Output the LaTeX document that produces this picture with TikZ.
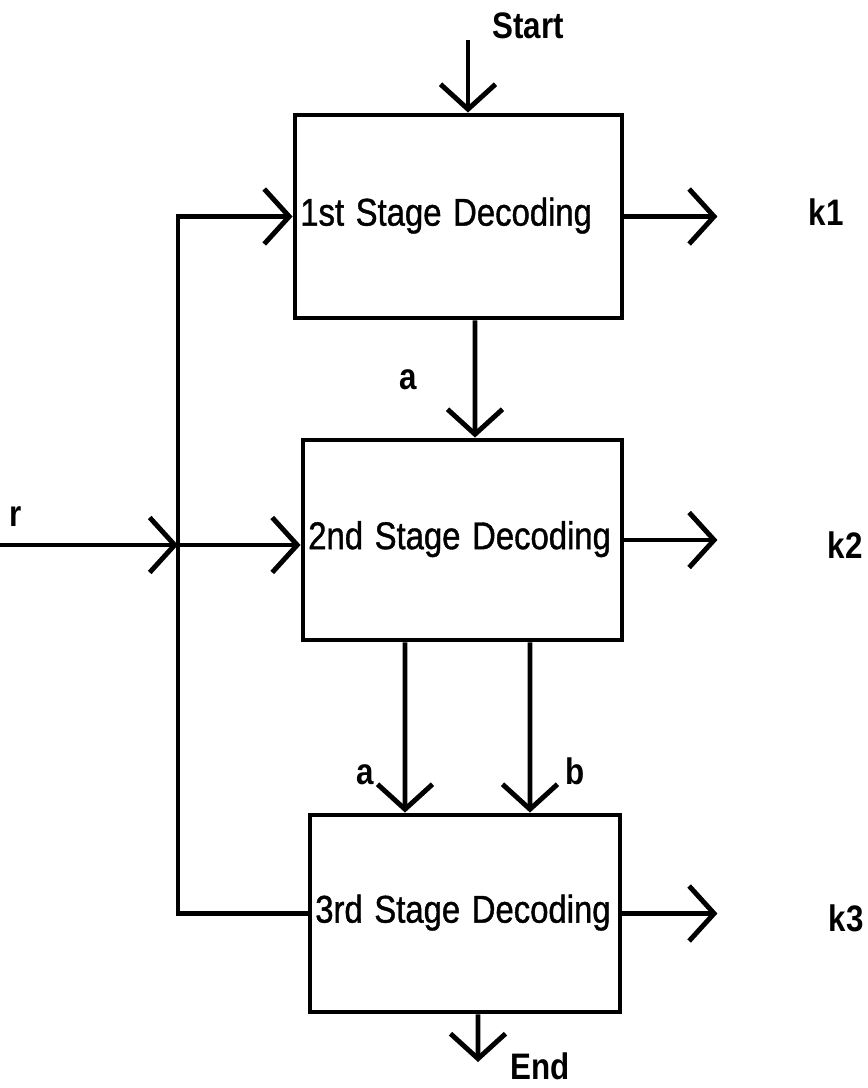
\documentclass[tikz,border=0pt]{standalone}
\usepackage{fontspec}
\setmainfont{Liberation Sans}
\newfontfamily\stagefont[FakeStretch=0.85,FakeBold=1]{Liberation Sans}
\newfontfamily\lblfont[FakeStretch=0.85]{Liberation Sans}
\usetikzlibrary{arrows.meta,positioning}

\tikzset{
  stage/.style={draw, line width=2.8pt, inner xsep=3pt, align=left,
    font=\stagefont\fontsize{22}{26}\selectfont,
    execute at begin node={\spaceskip=0.3em\relax}},
  lbl/.style={font=\lblfont\bfseries\fontsize{21}{25}\selectfont},
  wire/.style={line width=2.8pt},
  arr/.style={wire, -{Straight Barb[length=0.5cm,width=1.1cm]}},
}

\begin{document}
\begin{tikzpicture}[x=0.02cm, y=-0.02cm]
    \useasboundingbox (0,0) rectangle (867,1088);
    % the three stages
    \node[stage, minimum width=6.54cm, minimum height=4.06cm, text width=6.33cm] (b1) at (458.5,216.5) {\mbox{\strut1st Stage Decoding}};
    \node[stage, minimum width=6.38cm, minimum height=4.0cm, text width=6.17cm] (b2) at (462.5,540) {\mbox{\strut2nd Stage Decoding}};
    \node[stage, minimum width=6.2cm, minimum height=3.94cm, text width=5.99cm] (b3) at (465,913.5) {\mbox{\strut3rd Stage Decoding}};
    % labels
    \node[lbl] (start) at (528,26) {Start};
    \node[lbl] (r) at (16,517) {r};
    \node[lbl] (la1) at (408,380) {a};
    \node[lbl] (la2) at (365,775) {a};
    \node[lbl] (lb) at (575,771) {b};
    \node[lbl] (k1) at (826,212) {k1};
    \node[lbl] (k2) at (845,545) {k2};
    \node[lbl] (k3) at (846,918) {k3};
    \node[lbl] (end) at (540,1066) {End};
    \coordinate (s0) at (468,40);
    \coordinate (rin) at (0,545);
    \coordinate (j) at (178,545);
    \coordinate (e0) at (478,1062);
    % connectors
    \draw[arr] (s0) -- (s0 |- b1.north);
    \draw[arr] ([xshift=0.33cm]b1.south) -- ([xshift=0.25cm]b2.north);
    \draw[arr] ([xshift=-1.15cm]b2.south) -- ([xshift=-1.2cm]b3.north);
    \draw[arr] ([xshift=1.35cm]b2.south) -- ([xshift=1.3cm]b3.north);
    \draw[arr] ([xshift=0.26cm]b3.south) -- (e0);
    \draw[arr] (rin) -- (j);
    \draw[arr] (j) -- (j -| b2.west);
    \draw[arr] (b3.west) -| (j) |- (b1.west);
    \draw[arr] (b1.east) -- ++(1.86cm,0);
    \draw[arr] (b2.east) -- ++(1.86cm,0);
    \draw[arr] (b3.east) -- ++(1.9cm,0);
\end{tikzpicture}
\end{document}
